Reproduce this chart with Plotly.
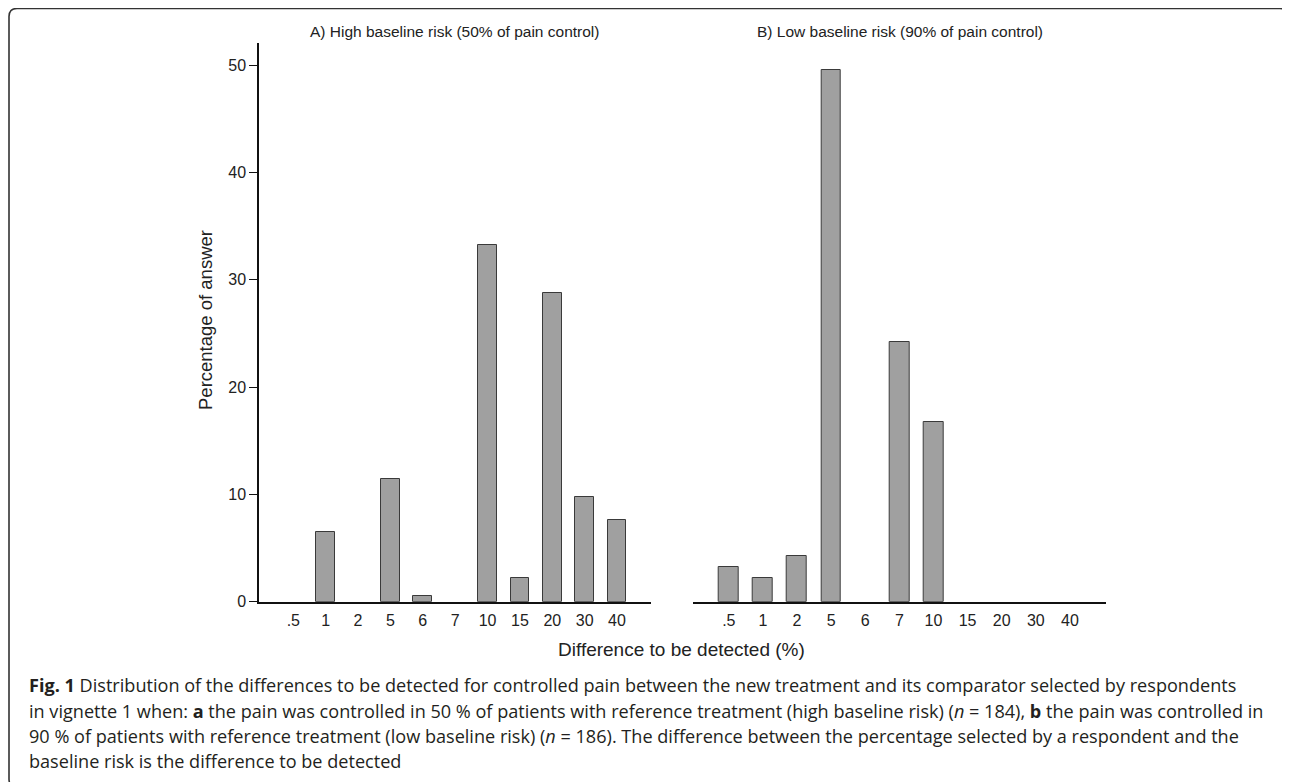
import plotly.graph_objects as go

# ---- data ----
categories = ['.5', '1', '2', '5', '6', '7', '10', '15', '20', '30', '40']
high_risk_pct = [0, 6.5, 0, 11.4, 0.5, 0, 33.2, 2.2, 28.8, 9.8, 7.6]
low_risk_pct = [3.2, 2.2, 4.3, 49.5, 0, 24.2, 16.7, 0, 0, 0, 0]
y_ticks = [0, 10, 20, 30, 40, 50]
title_a = "A) High baseline risk (50% of pain control)"
title_b = "B) Low baseline risk (90% of pain control)"
x_title = "Difference to be detected (%)"
y_title = "Percentage of answer"
caption_lines = [
    "<b>Fig. 1</b> Distribution of the differences to be detected for controlled pain between the new treatment and its comparator selected by respondents",
    "in vignette 1 when: <b>a</b> the pain was controlled in 50 % of patients with reference treatment (high baseline risk) (<i>n</i> = 184), <b>b</b> the pain was controlled in",
    "90 % of patients with reference treatment (low baseline risk) (<i>n</i> = 186). The difference between the percentage selected by a respondent and the",
    "baseline risk is the difference to be detected",
]

# page body has an 8px margin; the figure is sized to fit inside the window
OFF = 8
W, H = 1282, 774


def px(x):
    return (x - OFF) / W


def py(y):
    return 1 - (y - OFF) / H


def nz(vals):
    return [v if v > 0 else None for v in vals]


CHART_FONT = "Liberation Sans, Arial, sans-serif"
TXT = "#222222"
BAR_FILL = "#a0a0a0"
BAR_LINE = "#3a3a3a"

fig = go.Figure()
fig.add_trace(go.Bar(x=categories, y=nz(high_risk_pct), xaxis="x", yaxis="y",
                     width=0.58, marker=dict(color=BAR_FILL, line=dict(color=BAR_LINE, width=1)),
                     showlegend=False, hoverinfo="x+y"))
fig.add_trace(go.Bar(x=categories, y=nz(low_risk_pct), xaxis="x2", yaxis="y2",
                     width=0.58, marker=dict(color=BAR_FILL, line=dict(color=BAR_LINE, width=1)),
                     showlegend=False, hoverinfo="x+y"))

y_dom = [py(601.7), py(43)]
y_range = [0, 52.06]
x_range = [-1.06, 11.05]

xaxis_common = dict(type="category", categoryorder="array", categoryarray=categories,
                    range=x_range, showline=True, linecolor="#111111", linewidth=1.5,
                    showgrid=False, zeroline=False, ticks="outside", ticklen=3,
                    tickcolor="rgba(0,0,0,0)", tickfont=dict(family=CHART_FONT, size=16, color=TXT),
                    automargin=False, fixedrange=True)

fig.update_layout(
    width=W, height=H,
    margin=dict(l=0, r=0, t=0, b=0),
    paper_bgcolor="white", plot_bgcolor="white",
    font=dict(family=CHART_FONT, color=TXT),
    bargap=0,
    xaxis=dict(domain=[px(259), px(651)], anchor="y", **xaxis_common),
    xaxis2=dict(domain=[px(692.7), px(1105.7)], anchor="y2", **xaxis_common),
    yaxis=dict(domain=y_dom, range=y_range, anchor="x", tickvals=y_ticks,
               showline=True, linecolor="#111111", linewidth=1.5, ticks="outside",
               ticklen=8, tickwidth=1.2, tickcolor="#111111", showgrid=False, zeroline=False,
               tickfont=dict(family=CHART_FONT, size=16, color=TXT), automargin=False,
               fixedrange=True),
    yaxis2=dict(domain=y_dom, range=y_range, anchor="x2", visible=False, fixedrange=True),
)

annotations = [
    dict(text=title_a, x=px(455), y=py(31.7), font=dict(size=15.5, family=CHART_FONT, color=TXT)),
    dict(text=title_b, x=px(899.5), y=py(31.7), font=dict(size=15.5, family=CHART_FONT, color=TXT)),
    dict(text=x_title, x=px(681.5), y=py(649), font=dict(size=19, family=CHART_FONT, color=TXT)),
    dict(text=y_title, x=px(205), y=py(320), textangle=-90, font=dict(size=18.5, family=CHART_FONT, color=TXT)),
]
for a in annotations:
    a.update(xref="paper", yref="paper", showarrow=False, xanchor="center", yanchor="middle")

cap_y = [685, 710.5, 736, 761]
for line, yy in zip(caption_lines, cap_y):
    annotations.append(dict(text=line, x=px(27), y=py(yy), xref="paper", yref="paper",
                            showarrow=False, xanchor="left", yanchor="middle",
                            font=dict(family="Open Sans, sans-serif", size=18.1, color="#231f20")))
fig.update_layout(annotations=annotations)

# rounded frame around the figure
x0, y0, x1, y1, r = 9, 8.5, 1288, 787, 8
path = (f"M {px(x0)},{py(y0 + r)} Q {px(x0)},{py(y0)} {px(x0 + r)},{py(y0)} "
        f"L {px(x1 - r)},{py(y0)} Q {px(x1)},{py(y0)} {px(x1)},{py(y0 + r)} "
        f"L {px(x1)},{py(y1 - r)} Q {px(x1)},{py(y1)} {px(x1 - r)},{py(y1)} "
        f"L {px(x0 + r)},{py(y1)} Q {px(x0)},{py(y1)} {px(x0)},{py(y1 - r)} Z")
fig.add_shape(type="path", path=path, xref="paper", yref="paper",
              line=dict(color="#333333", width=1.6), layer="above")

fig.write_html("out.html")
